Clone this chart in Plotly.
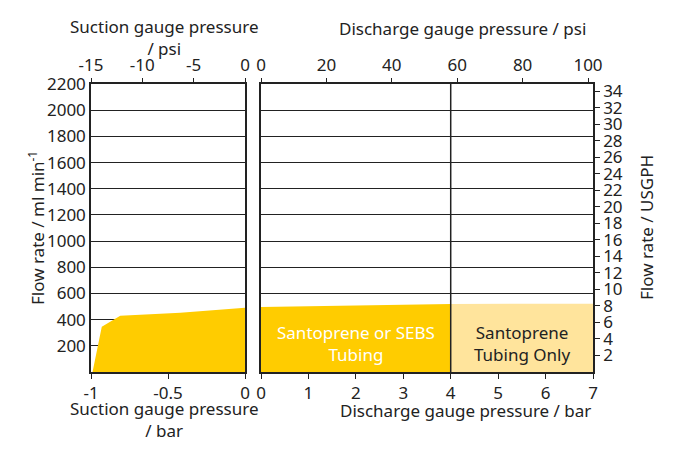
import plotly.graph_objects as go

# ---- data ----
suction_bar = [-0.99, -0.93, -0.81, -0.42, 0.0]
suction_flow = [0, 346, 430, 453, 491]
discharge_bar_sebs = [0.0, 4.0]
discharge_flow_sebs = [497, 520]
discharge_bar_sant = [4.0, 7.0]
discharge_flow_sant = [520, 522]
flow_ticks = [200, 400, 600, 800, 1000, 1200, 1400, 1600, 1800, 2000, 2200]
usgph_ticks = list(range(2, 35, 2))
psi_suction_ticks = [-15, -10, -5, 0]
psi_discharge_ticks = [0, 20, 40, 60, 80, 100]
bar_suction_ticks = [-1, -0.5, 0]
bar_discharge_ticks = [0, 1, 2, 3, 4, 5, 6, 7]
ML_PER_USGPH = 63.09
PSI_PER_BAR = 14.5038

DARK = "#FFCC00"
LIGHT = "#FFE49C"
INK = "#222222"
FONT = "Noto Sans"
FS = 17

fig = go.Figure()
fig.add_trace(go.Scatter(x=suction_bar, y=suction_flow, fill="tozeroy", mode="lines",
                         line=dict(width=0), fillcolor=DARK, xaxis="x", yaxis="y",
                         hoverinfo="skip", showlegend=False))
fig.add_trace(go.Scatter(x=discharge_bar_sebs, y=discharge_flow_sebs, fill="tozeroy", mode="lines",
                         line=dict(width=0), fillcolor=DARK, xaxis="x2", yaxis="y2",
                         hoverinfo="skip", showlegend=False))
fig.add_trace(go.Scatter(x=discharge_bar_sant, y=discharge_flow_sant, fill="tozeroy", mode="lines",
                         line=dict(width=0), fillcolor=LIGHT, xaxis="x2", yaxis="y2",
                         hoverinfo="skip", showlegend=False))
# divider at 4 bar
fig.add_trace(go.Scatter(x=[4, 4], y=[0, 2200], mode="lines", line=dict(color=INK, width=1.5),
                         xaxis="x2", yaxis="y2", hoverinfo="skip", showlegend=False))
# placeholders for secondary axes
fig.add_trace(go.Scatter(x=[-15, 0], y=[None, None], xaxis="x3", yaxis="y", showlegend=False, hoverinfo="skip"))
fig.add_trace(go.Scatter(x=[0, 100], y=[None, None], xaxis="x4", yaxis="y2", showlegend=False, hoverinfo="skip"))
fig.add_trace(go.Scatter(x=[0, 7], y=[None, None], xaxis="x2", yaxis="y3", showlegend=False, hoverinfo="skip"))

OFF = 8  # page body margin
W, H = 680 - OFF, 454 - OFF
L = 91 - OFF
T = 84 - OFF
R = W - (593 - OFF)
B = H - (372 - OFF)
pw = W - L - R
ph = H - T - B
dom_left = [0, (245 - 91) / pw]
dom_right = [(261 - 91) / pw, 1]

axis_common = dict(showline=True, linecolor=INK, linewidth=1.5, zeroline=False,
                   tickfont=dict(family=FONT, size=FS, color=INK), layer="above traces")

fig.update_layout(
    width=W, height=H, margin=dict(l=L, r=R, t=T, b=B, autoexpand=False),
    paper_bgcolor="white", plot_bgcolor="white",
    font=dict(family=FONT, size=FS, color=INK),
    xaxis=dict(domain=dom_left, range=[-1, 0], anchor="y", tickvals=bar_suction_ticks,
               ticktext=["-1", "-0.5", "0"], ticks="outside", ticklen=5, tickcolor=INK,
               showgrid=False, **axis_common),
    xaxis3=dict(overlaying="x", side="top", range=[-15, 0], anchor="y", tickvals=psi_suction_ticks,
                ticktext=["-15", "-10", "-5", "0"],
                ticks="outside", ticklen=4, tickcolor=INK, showgrid=False, **axis_common),
    xaxis2=dict(domain=dom_right, range=[0, 7], anchor="y2", tickvals=bar_discharge_ticks,
                ticks="outside", ticklen=5, tickcolor=INK, showgrid=False, **axis_common),
    xaxis4=dict(overlaying="x2", side="top", range=[0, 7 * PSI_PER_BAR], anchor="y2",
                tickvals=psi_discharge_ticks, ticks="outside", ticklen=4, tickcolor=INK,
                showgrid=False, **axis_common),
    yaxis=dict(domain=[0, 1], range=[0, 2200], anchor="x", tickvals=flow_ticks, ticks="",
               showgrid=True, gridcolor=INK, gridwidth=1, mirror=True, **axis_common),
    yaxis2=dict(domain=[0, 1], range=[0, 2200], anchor="x2", tickvals=flow_ticks,
                showticklabels=False, ticks="", showgrid=True, gridcolor=INK, gridwidth=1,
                mirror=True, **axis_common),
    yaxis3=dict(overlaying="y2", side="right", anchor="x2", range=[0, 2200 / ML_PER_USGPH],
                tickvals=usgph_ticks, ticks="outside", ticklen=5, tickcolor=INK,
                showgrid=False, **axis_common),
)

def px_x(p):
    return (p - 91) / pw

def px_y(p):
    return (372 - p) / ph

lab = dict(size=FS, family=FONT, color=INK)
annos = [
    dict(text="Santoprene or SEBS<br>Tubing", x=2, y=221, xref="x2", yref="y2",
         font=dict(color="white", size=FS, family=FONT), showarrow=False),
    dict(text="Santoprene<br>Tubing Only", x=5.5, y=221, xref="x2", yref="y2",
         font=lab, showarrow=False),
    dict(text="Suction gauge pressure<br>/ psi", x=px_x(164), y=px_y(37), font=lab),
    dict(text="Discharge gauge pressure / psi", x=px_x(462), y=px_y(28), font=lab),
    dict(text="Suction gauge pressure<br>/ bar", x=px_x(164), y=px_y(419), font=lab),
    dict(text="Discharge gauge pressure / bar", x=px_x(465), y=px_y(410), font=lab),
    dict(text="Flow rate / ml min<sup>-1</sup>", x=px_x(36), y=px_y(228), textangle=-90, font=lab),
    dict(text="Flow rate / USGPH", x=px_x(646), y=px_y(228), textangle=-90, font=lab),
]
for a in annos:
    a.setdefault("xref", "paper")
    a.setdefault("yref", "paper")
    a["showarrow"] = False
    a["xanchor"] = "center"
    a["yanchor"] = "middle"
fig.update_layout(annotations=annos)

fig.write_html("out.html")
